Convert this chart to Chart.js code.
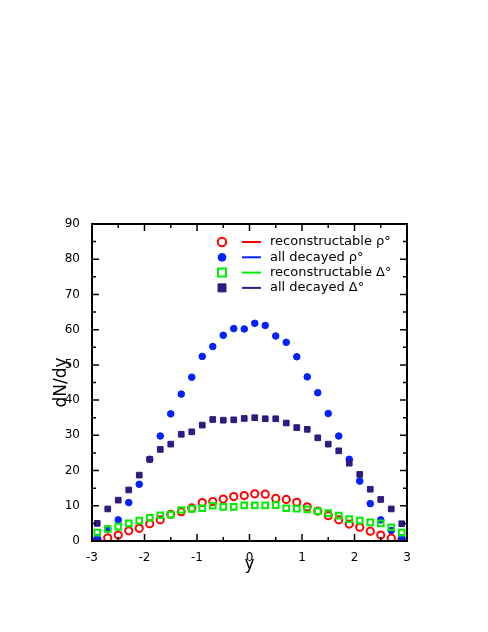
<!DOCTYPE html><html><head><script src="https://cdn.jsdelivr.net/npm/chart.js@4"></script>
<style>body{margin:0;background:#fff}</style></head><body><canvas id="c" width="488" height="632"></canvas><script>
const yVals=[-2.9,-2.7,-2.5,-2.3,-2.1,-1.9,-1.7,-1.5,-1.3,-1.1,-0.9,-0.7,-0.5,-0.3,-0.1,0.1,0.3,0.5,0.7,0.9,1.1,1.3,1.5,1.7,1.9,2.1,2.3,2.5,2.7,2.9];
const recRho=[0.3,0.9,1.7,2.9,3.6,4.9,6.0,7.6,8.3,9.4,10.9,11.2,11.9,12.6,12.9,13.4,13.3,12.1,11.8,11.0,9.7,8.5,7.2,6.0,4.8,3.9,2.8,1.7,0.8,0.3];
const allRho=[0.9,3.4,6.0,10.9,16.1,23.2,29.8,36.1,41.7,46.5,52.4,55.2,58.4,60.3,60.2,61.8,61.2,58.2,56.4,52.3,46.6,42.1,36.2,29.8,23.2,17.0,10.6,6.0,3.0,0.9];
const recDelta=[2.4,3.4,4.1,5.0,5.8,6.6,7.3,7.5,8.8,9.1,9.3,10.0,9.7,9.7,10.1,10.1,10.1,10.2,9.3,9.2,9.0,8.5,7.9,7.2,6.2,5.8,5.3,5.0,3.9,2.4];
const allDelta=[5.0,9.1,11.6,14.5,18.7,23.2,26.0,27.5,30.3,31.0,32.9,34.5,34.3,34.4,34.8,35.0,34.7,34.7,33.5,32.2,31.7,29.3,27.5,25.6,22.1,18.9,14.7,11.8,9.1,4.9];
const xTicks=[-3,-2,-1,0,1,2,3];
const yTicks=[0,10,20,30,40,50,60,70,80,90];
const legendLabels=['reconstructable \u03c1\u00b0','all decayed \u03c1\u00b0','reconstructable \u0394\u00b0','all decayed \u0394\u00b0'];
const FONT='"DejaVu Sans", sans-serif';
const mk=(d)=>yVals.map((x,i)=>({x,y:d[i]}));
const sets=[
 {label:legendLabels[0],data:mk(recRho),pointStyle:'circle',radius:3.6,borderColor:'#ff0000',backgroundColor:'rgba(0,0,0,0)',borderWidth:2,line:'#ff0000'},
 {label:legendLabels[1],data:mk(allRho),pointStyle:'circle',radius:3.3,borderColor:'#0022ff',backgroundColor:'#0022ff',borderWidth:1,line:'#0022ff'},
 {label:legendLabels[2],data:mk(recDelta),pointStyle:'rect',radius:4,borderColor:'#00ee00',backgroundColor:'rgba(0,0,0,0)',borderWidth:2,line:'#00ee00'},
 {label:legendLabels[3],data:mk(allDelta),pointStyle:'rect',radius:4,borderColor:'#2e1a80',backgroundColor:'#2e1a80',borderWidth:1,line:'#2e1a80'}
];
const ds=sets.map(s=>({label:s.label,data:s.data,showLine:false,pointStyle:s.pointStyle,pointRadius:s.radius,pointBorderColor:s.borderColor,pointBackgroundColor:s.backgroundColor,pointBorderWidth:s.borderWidth,order:3-sets.indexOf(s)}));
const deco={id:'deco',afterDraw(c){const g=c.ctx,a=c.chartArea,xs=c.scales.x,ys=c.scales.y;g.save();g.strokeStyle='#000';g.lineWidth=2;g.strokeRect(a.left,a.top,a.right-a.left,a.bottom-a.top);g.lineWidth=1.5;
 for(let v=-3;v<=3.001;v+=0.5){const p=xs.getPixelForValue(v),L=Math.abs(v-Math.round(v))<1e-6?7:4;g.beginPath();g.moveTo(p,a.bottom);g.lineTo(p,a.bottom-L);g.moveTo(p,a.top);g.lineTo(p,a.top+L);g.stroke();}
 for(let v=0;v<=90.001;v+=5){const p=ys.getPixelForValue(v),L=v%10===0?7:4;g.beginPath();g.moveTo(a.left,p);g.lineTo(a.left+L,p);g.moveTo(a.right,p);g.lineTo(a.right-L,p);g.stroke();}
 g.font='13px '+FONT;g.textBaseline='middle';
 sets.forEach((s,i)=>{const y=242+i*15.3;g.lineWidth=s.borderWidth;g.strokeStyle=s.borderColor;g.fillStyle=s.backgroundColor;g.beginPath();
  if(s.pointStyle==='circle'){g.arc(222,y,s.radius+0.6,0,Math.PI*2);}else{g.rect(222-s.radius,y-s.radius,2*s.radius,2*s.radius);}
  g.fill();g.stroke();g.lineWidth=2;g.strokeStyle=s.line;g.beginPath();g.moveTo(242,y);g.lineTo(261,y);g.stroke();g.fillStyle='#000';g.fillText(s.label,270,y);});
 g.restore();}};
new Chart(document.getElementById('c'),{type:'scatter',data:{datasets:ds},plugins:[deco],options:{responsive:false,animation:false,
 layout:{padding:{top:224,right:81,left:47,bottom:53}},
 plugins:{legend:{display:false},tooltip:{enabled:false}},
 scales:{x:{type:'linear',min:-3,max:3,afterFit(s){s.height=38;},afterBuildTicks(s){s.ticks=xTicks.map(v=>({value:v}));},grid:{display:false},border:{display:false},
   ticks:{color:'#000',font:{size:12,family:FONT},padding:2,maxRotation:0},title:{display:true,text:'y',color:'#000',font:{size:17,family:FONT},padding:{top:0}}},
  y:{min:0,max:90,afterFit(s){s.width=45;},afterBuildTicks(s){s.ticks=yTicks.map(v=>({value:v}));},grid:{display:false},border:{display:false},
   ticks:{color:'#000',font:{size:12,family:FONT},padding:4},title:{display:true,text:'dN/dy',color:'#000',font:{size:17,family:FONT},padding:{bottom:2}}}}}});
</script></body></html>
